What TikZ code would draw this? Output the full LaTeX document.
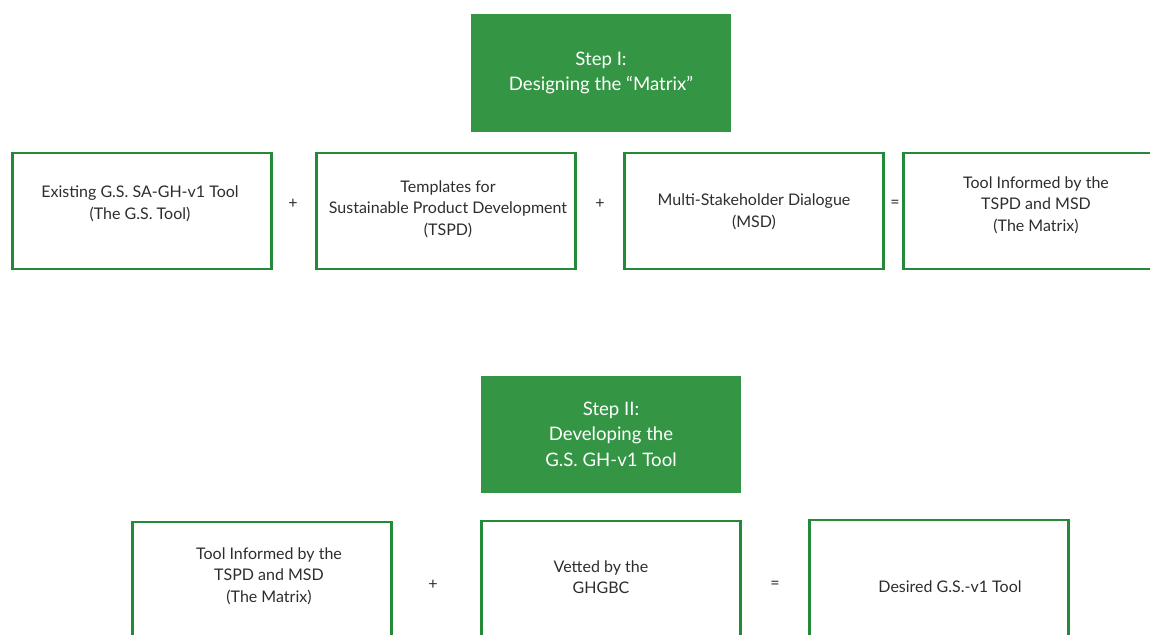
\documentclass[tikz,border=0pt]{standalone}
\usepackage{fontspec}
\setmainfont{Lato}
\definecolor{stepgreen}{RGB}{52,150,68}
\definecolor{boxgreen}{RGB}{36,138,58}
\definecolor{txt}{RGB}{45,45,45}
\begin{document}
\begin{tikzpicture}[x=1pt,y=-1pt,
  stepbox/.style={fill=stepgreen,draw=none,minimum width=260pt,minimum height=117pt,
    text=white,align=center,font=\fontsize{18.6}{25.5}\selectfont,inner sep=0pt},
  itembox/.style={draw=boxgreen,line width=2.2pt,minimum width=259pt,minimum height=116pt,
    inner sep=0pt},
  itemtext/.style={text=txt,align=center,font=\fontsize{16}{21.5}\selectfont,inner sep=0pt},
  op/.style={text=txt,font=\fontsize{16}{18}\selectfont,inner sep=0pt}]
\useasboundingbox (0,0) rectangle (1150,634);
\clip (0,0) rectangle (1150,634);
% Step I
\node[stepbox] (s1) at (601,73) {Step I:\\Designing the “Matrix”};
% Row 1
\node[itembox] (a1) at (142,211) {};
\node[itemtext] (a1t) at (140,204) {Existing G.S. SA-GH-v1 Tool\\(The G.S. Tool)};
\node[op] (p1) at (293,204) {+};
\node[itembox] (a2) at (446,211) {};
\node[itemtext] (a2t) at (448,209) {Templates for\\Sustainable Product Development\\(TSPD)};
\node[op] (p2) at (600,204) {+};
\node[itembox] (a3) at (754,211) {};
\node[itemtext] (a3t) at (754,212) {Multi-Stakeholder Dialogue\\(MSD)};
\node[op] (e1) at (895,204) {=};
\node[itembox] (a4) at (1033,211) {};
\node[itemtext] (a4t) at (1036,205) {Tool Informed by the\\TSPD and MSD\\(The Matrix)};
% Step II
\node[stepbox] (s2) at (611,434) {Step II:\\Developing the\\G.S. GH-v1 Tool};
% Row 2
\node[itembox] (b1) at (262,580) {};
\node[itemtext] (b1t) at (269,576) {Tool Informed by the\\TSPD and MSD\\(The Matrix)};
\node[op] (p3) at (433,585) {+};
\node[itembox] (b2) at (611,579) {};
\node[itemtext] (b2t) at (601,577) {Vetted by the\\GHGBC};
\node[op] (e2) at (775,585) {=};
\node[itembox] (b3) at (939,578) {};
\node[itemtext] (b3t) at (950,587) {Desired G.S.-v1 Tool};
\end{tikzpicture}
\end{document}
